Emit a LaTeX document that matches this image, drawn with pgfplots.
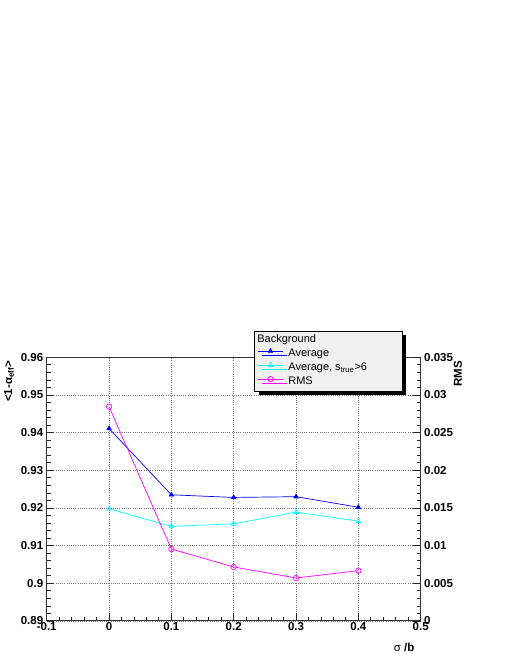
\documentclass[border=0pt]{standalone}
\usepackage{pgfplots}
\pgfplotsset{compat=1.18}
\usepackage{fontspec}
\setmainfont{Liberation Sans}
\usetikzlibrary{shadows}
\definecolor{rblue}{RGB}{0,0,255}
\definecolor{rcyan}{RGB}{0,255,255}
\definecolor{rmag}{RGB}{255,0,255}
\definecolor{legfill}{RGB}{240,240,240}
\begin{document}
\begin{tikzpicture}
\path[use as bounding box] (0,0) rectangle (505pt,654pt);
\pgfplotsset{
 rootstyle/.style={
  at={(46.7pt,33pt)}, anchor=south west, scale only axis,
  width=374pt, height=263.7pt,
  xmin=-0.1, xmax=0.5,
  tick align=inside, major tick length=7.5pt, minor tick length=4pt,
  every tick/.style={black!85, line width=0.8pt},
  ticklabel style={font=\fontsize{11.5}{13}\selectfont\bfseries},
  axis line style={black!80, line width=1pt},
  scaled ticks=false,
 }
}
\begin{axis}[rootstyle,
 ymin=0.89, ymax=0.96,
 xtick={-0.1,0,0.1,0.2,0.3,0.4,0.5},
 xticklabels={-0.1,0,0.1,0.2,0.3,0.4,0.5},
 ytick={0.89,0.90,0.91,0.92,0.93,0.94,0.95,0.96},
 yticklabels={0.89,0.9,0.91,0.92,0.93,0.94,0.95,0.96},
 minor x tick num=4, minor y tick num=4,
 xtick pos=lower, ytick pos=left,
 xticklabel style={yshift=2pt},
 grid=major,
 major grid style={black!55, line width=0.5pt, dash pattern=on 1pt off 1.2pt},
 xlabel={{\mdseries σ} /b},
 every axis x label/.style={at={([xshift=-2.7pt,yshift=-26pt]axis description cs:1,0)}, anchor=east, font=\fontsize{11.5}{13}\selectfont\bfseries},
 ylabel={<1-α\textsubscript{eff}>},
 every axis y label/.style={at={([xshift=-37.7pt]axis description cs:0,1)}, rotate=90, anchor=east, font=\fontsize{11.5}{13}\selectfont\bfseries},
]
\addplot[rblue, line width=0.7pt, mark=triangle*, mark size=2.5pt] coordinates {
 (0,0.9411) (0.1,0.9235) (0.2,0.9228) (0.3,0.9230) (0.4,0.9202)};
\addplot[rcyan, line width=0.7pt, mark=triangle, mark size=2.7pt] coordinates {
 (0,0.9198) (0.1,0.9151) (0.2,0.9158) (0.3,0.9189) (0.4,0.9165)};
\end{axis}
\begin{axis}[rootstyle,
 ymin=0, ymax=0.035,
 axis x line=none, axis y line*=right,
 ytick={0,0.005,0.01,0.015,0.02,0.025,0.03,0.035},
 yticklabels={0,0.005,0.01,0.015,0.02,0.025,0.03,0.035},
 minor y tick num=4,
 ylabel={RMS},
 every axis y label/.style={at={([xshift=37.3pt]axis description cs:1,1)}, rotate=90, anchor=east, font=\fontsize{11.5}{13}\selectfont\bfseries},
 legend style={at={(0.555,1.101)}, anchor=north west,
   draw=black, line width=0.8pt, fill=legfill,
   drop shadow={shadow xshift=4pt, shadow yshift=-4pt, fill=black, opacity=1},
   inner xsep=3pt, inner ysep=2pt, row sep=0pt, column sep=4pt,
   font=\fontsize{11}{13}\selectfont,
   nodes={inner xsep=1pt, inner ysep=1pt, text height=8.5pt, text depth=3.5pt},
 },
 legend cell align=left,
 legend image code/.code={\draw[mark repeat=2, mark phase=2] plot coordinates {(0pt,3pt) (12.5pt,3pt) (25pt,3pt)};},
]
\addlegendimage{empty legend}
\addlegendentry{\hspace{-31pt}Background}
\addlegendimage{rblue, line width=0.7pt, mark=triangle*, mark size=2.5pt}
\addlegendentry{Average}
\addlegendimage{rcyan, line width=0.7pt, mark=triangle, mark size=2.7pt}
\addlegendentry{\makebox[110pt][l]{Average, s\textsubscript{true}>6}}
\addplot[rmag, line width=0.7pt, mark=o, mark size=2.7pt] coordinates {
 (0,0.02845) (0.1,0.00955) (0.2,0.00717) (0.3,0.00571) (0.4,0.00668)};
\addlegendentry{RMS}
\end{axis}
\end{tikzpicture}
\end{document}
